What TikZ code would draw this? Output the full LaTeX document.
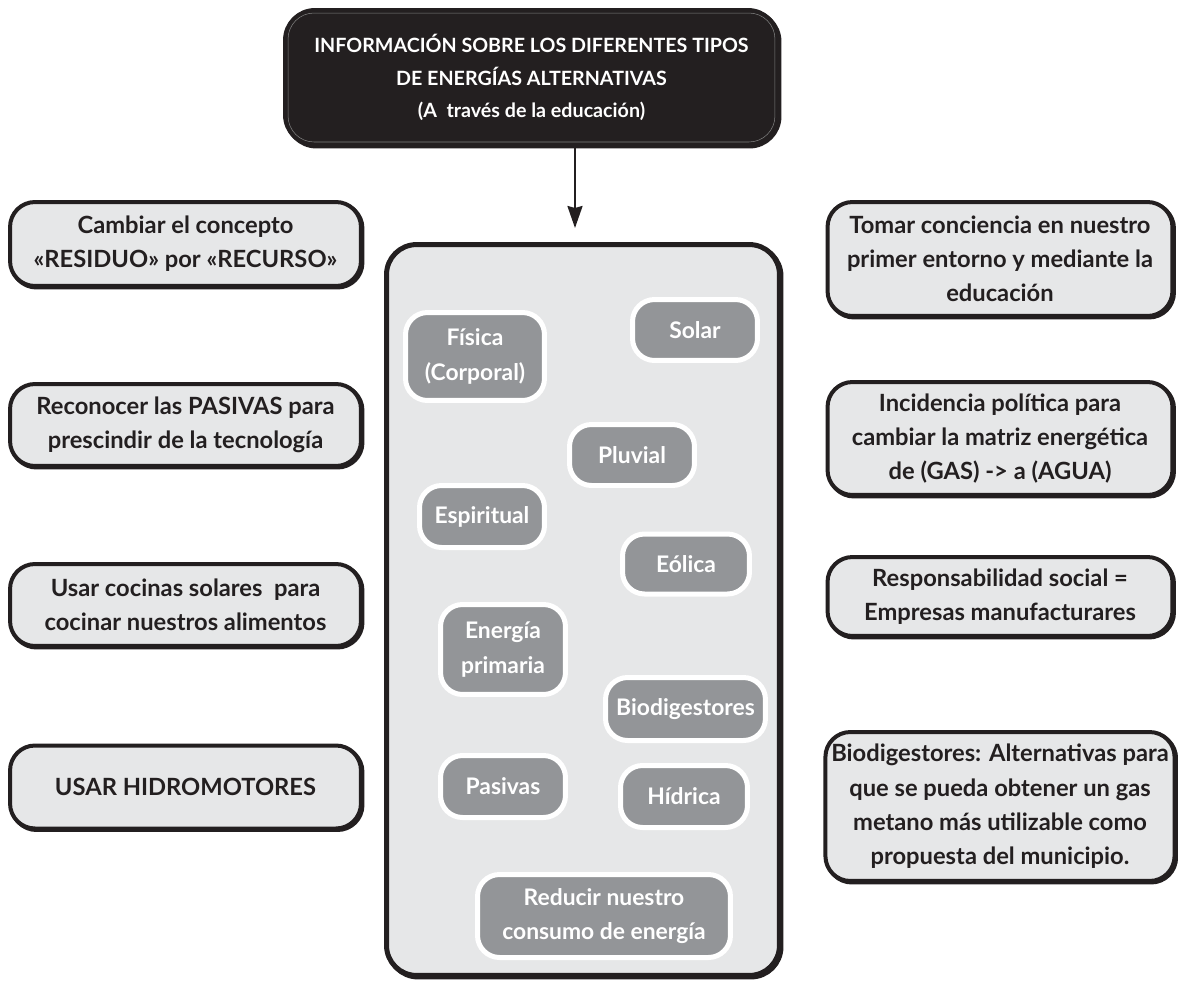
\documentclass[tikz,border=0pt]{standalone}
\usepackage{fontspec}
\setmainfont{Lato}
\usetikzlibrary{arrows.meta}
\definecolor{ink}{HTML}{231F20}
\definecolor{boxfill}{HTML}{E6E7E8}
\definecolor{pill}{HTML}{939598}
\tikzset{
  outerbox/.style={draw=ink, line width=0.08cm, fill=boxfill, rounded corners=0.5cm,
    align=center, text=ink, font=\bfseries\fontsize{13.5}{19.5}\selectfont,
    preaction={draw=ink, line width=0.08cm, transform canvas={xshift=0.03cm,yshift=-0.03cm}}},
  pillbox/.style={draw=white, line width=0.1cm, fill=pill, rounded corners=0.44cm,
    align=center, text=white, font=\bfseries\fontsize{13}{19.5}\selectfont, inner sep=0pt},
}
\begin{document}
\begin{tikzpicture}[x=0.02cm,y=-0.02cm]
\useasboundingbox[fill=white] (0,0) rectangle (1178,981);

% title
\node[draw=ink, line width=0.08cm, fill=ink, rounded corners=0.6cm, text=white,
  align=center, font=\bfseries\fontsize{11.2}{18.5}\selectfont,
  minimum width=9.86cm, minimum height=2.7cm,
  preaction={draw=ink, line width=0.08cm, transform canvas={xshift=0.03cm,yshift=-0.03cm}}]
  (title) at (531.5,77.5) {INFORMACIÓN SOBRE LOS DIFERENTES TIPOS\\DE ENERGÍAS ALTERNATIVAS\\(A\ \ través de la educación)};
\draw[gray, line width=0.3pt, rounded corners=0.52cm]
  ([shift={(0.1cm,-0.1cm)}]title.north west) rectangle ([shift={(-0.1cm,0.1cm)}]title.south east);

% container
\node[draw=ink, line width=0.1cm, fill=boxfill, rounded corners=0.6cm,
  minimum width=7.86cm, minimum height=14.62cm,
  preaction={draw=ink, line width=0.1cm, transform canvas={xshift=0.03cm,yshift=-0.03cm}}]
  (cont) at (583,610) {};

% arrow
\coordinate (atip) at (575,228);
\draw[ink, line width=1.3pt, -{Stealth[length=0.44cm, width=0.3cm, inset=0.04cm]}]
  (title.south -| atip) -- (atip);

% left boxes
\node[outerbox, minimum width=7.02cm, minimum height=1.68cm] (l1) at (185.5,244)
  {Cambiar el concepto\\«RESIDUO» por «RECURSO»};
\node[outerbox, minimum width=7.02cm, minimum height=1.64cm] (l2) at (185.5,425)
  {Reconocer las PASIVAS para\\prescindir de la tecnología};
\node[outerbox, minimum width=7.02cm, minimum height=1.64cm] (l3) at (185.5,605)
  {Usar cocinas solares\ \ para\\cocinar nuestros alimentos};
\node[outerbox, minimum width=7.02cm, minimum height=1.66cm] (l4) at (185.5,787)
  {USAR HIDROMOTORES};

% right boxes
\node[outerbox, minimum width=6.9cm, minimum height=2.28cm] (r1) at (1000,259)
  {Tomar conciencia en nuestro\\primer entorno y mediante la\\educación};
\node[outerbox, minimum width=6.9cm, minimum height=2.26cm] (r2) at (1000,438.5)
  {Incidencia política para\\cambiar la matriz energética\\de (GAS) -> a (AGUA)};
\node[outerbox, minimum width=6.9cm, minimum height=1.58cm] (r3) at (1000,596.5)
  {Responsabilidad social =\\Empresas manufacturares};
\node[outerbox, minimum width=6.9cm, minimum height=2.98cm] (r4) at (1000,806.5)
  {Biodigestores: Alternativas para\\que se pueda obtener un gas\\metano más utilizable como\\propuesta del municipio.};

% inner pills
\node[pillbox, minimum width=2.78cm, minimum height=1.76cm] (p1) at (475,356.5) {Física\\(Corporal)};
\node[pillbox, minimum width=2.5cm, minimum height=1.22cm] (p2) at (695,330) {Solar};
\node[pillbox, minimum width=2.5cm, minimum height=1.22cm] (p3) at (632,455) {Pluvial};
\node[pillbox, minimum width=2.5cm, minimum height=1.24cm] (p4) at (482,516.5) {Espiritual};
\node[pillbox, minimum width=2.54cm, minimum height=1.2cm] (p5) at (686,564) {Eólica};
\node[pillbox, minimum width=2.5cm, minimum height=1.8cm] (p6) at (503,649.5) {Energía\\primaria};
\node[pillbox, minimum width=3.2cm, minimum height=1.26cm] (p7) at (685.5,709) {Biodigestores};
\node[pillbox, minimum width=2.5cm, minimum height=1.24cm] (p8) at (503,786.5) {Pasivas};
\node[pillbox, minimum width=2.54cm, minimum height=1.24cm] (p9) at (684,796.5) {Hídrica};
\node[pillbox, minimum width=5.06cm, minimum height=1.66cm] (p10) at (604,916) {Reducir nuestro\\consumo de energía};
\end{tikzpicture}
\end{document}
